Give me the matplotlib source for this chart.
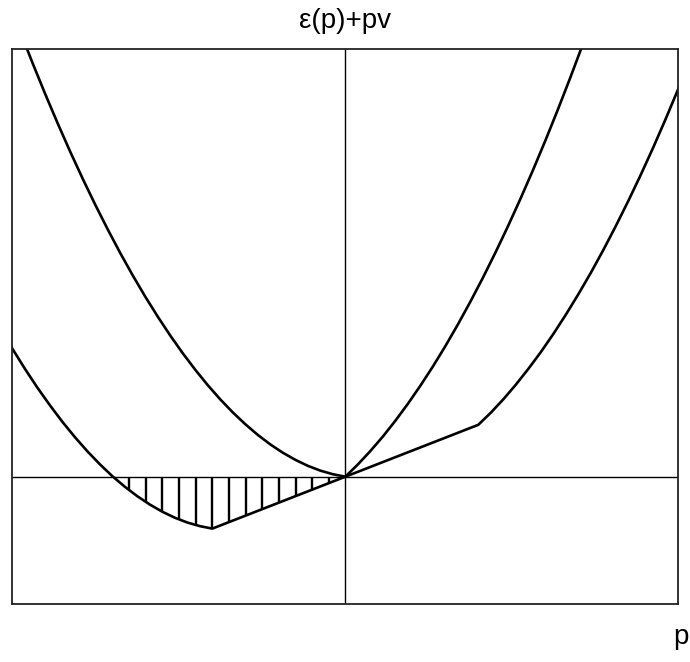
import matplotlib
matplotlib.use('Agg')
import matplotlib.pyplot as plt
import numpy as np

plt.rcParams['font.family'] = ['Liberation Sans', 'DejaVu Sans']

# upper curve eps(p)+pv (p and height in units of 100 px)
upper_p = [-3.25, -3.125, -3.0, -2.875, -2.75, -2.625, -2.5, -2.375, -2.25, -2.125,
           -2.0, -1.875, -1.75, -1.625, -1.5, -1.375, -1.25, -1.125, -1.0, -0.875,
           -0.75, -0.625, -0.5, -0.375, -0.25, -0.125, 0.0,
           0.125, 0.25, 0.375, 0.5, 0.625, 0.75, 0.875, 1.0, 1.125, 1.25,
           1.375, 1.5, 1.625, 1.75, 1.875, 2.0, 2.125, 2.25, 2.375, 2.5]
upper_y = [4.448, 4.131, 3.825, 3.531, 3.248, 2.978, 2.719, 2.472, 2.236, 2.012,
           1.800, 1.600, 1.411, 1.234, 1.069, 0.915, 0.773, 0.643, 0.525, 0.418,
           0.323, 0.240, 0.169, 0.109, 0.061, 0.025, 0.0,
           0.122, 0.256, 0.401, 0.559, 0.728, 0.909, 1.101, 1.305, 1.521, 1.749,
           1.988, 2.239, 2.501, 2.776, 3.062, 3.360, 3.670, 3.991, 4.324, 4.669]

# lower curve, straight piece between the two kinks
lower_p = [-3.455, -3.33, -3.205, -3.08, -2.955, -2.83, -2.705, -2.58, -2.455, -2.33,
           -2.205, -2.08, -1.955, -1.83, -1.705, -1.58, -1.455, -1.33,
           0.0,
           1.33, 1.455, 1.58, 1.705, 1.83, 1.955, 2.08, 2.205, 2.33,
           2.455, 2.58, 2.705, 2.83, 2.955, 3.08, 3.205, 3.33, 3.455]
lower_y = [1.494, 1.281, 1.081, 0.892, 0.716, 0.550, 0.397, 0.255, 0.125, 0.006,
           -0.100, -0.195, -0.278, -0.350, -0.410, -0.458, -0.494, -0.519,
           0.0,
           0.519, 0.640, 0.774, 0.920, 1.078, 1.246, 1.427, 1.620, 1.824,
           2.039, 2.267, 2.507, 2.758, 3.020, 3.294, 3.581, 3.879, 4.188]

# vertical hatch lines under the axis
hatch_p = [-2.163, -1.996, -1.83, -1.663, -1.496, -1.33, -1.163, -0.996,
           -0.83, -0.663, -0.496, -0.33, -0.163]

fig = plt.figure(figsize=(6.9, 6.62), dpi=100)
ax = fig.add_axes([0.01739, 0.0876, 0.9648, 0.8379])

ax.set_xlim(-3.333, 3.324)
ax.set_ylim(-1.273, 4.274)

ax.axhline(0, color='black', linewidth=1.0)
ax.axvline(0, color='black', linewidth=1.0)

ax.plot(upper_p, upper_y, color='black', linewidth=1.9)
ax.plot(lower_p, lower_y, color='black', linewidth=1.9)

hatch_bottom = np.interp(hatch_p, lower_p, lower_y)
ax.vlines(hatch_p, hatch_bottom, 0, color='black', linewidth=1.7)

ax.set_xticks([])
ax.set_yticks([])
for s in ax.spines.values():
    s.set_color('#222222')
    s.set_linewidth(1.3)

fig.text(0.5, 1 - 21 / 662, 'ε(p)+pv', ha='center', va='center', fontsize=20)
fig.text(681 / 690, 1 - 637 / 662, 'p', ha='center', va='center', fontsize=20)

fig.savefig('out.png', dpi=100)
plt.close(fig)
